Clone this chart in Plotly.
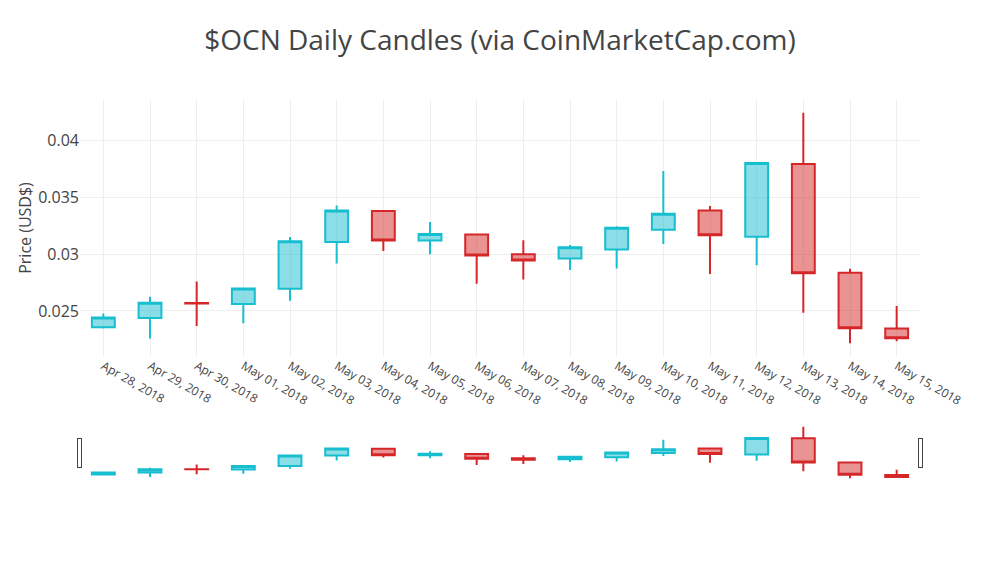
import plotly.graph_objects as go

# daily OHLC for $OCN
dates = ["Apr 28, 2018", "Apr 29, 2018", "Apr 30, 2018", "May 01, 2018", "May 02, 2018",
         "May 03, 2018", "May 04, 2018", "May 05, 2018", "May 06, 2018", "May 07, 2018",
         "May 08, 2018", "May 09, 2018", "May 10, 2018", "May 11, 2018", "May 12, 2018",
         "May 13, 2018", "May 14, 2018", "May 15, 2018"]
open_ = [0.02357, 0.02439, 0.02570, 0.02561, 0.02696, 0.03108, 0.03380, 0.03120, 0.03173,
         0.03000, 0.02962, 0.03041, 0.03216, 0.03386, 0.03155, 0.03795, 0.02836, 0.02345]
high = [0.02477, 0.02626, 0.02760, 0.02699, 0.03152, 0.03430, 0.03380, 0.03284, 0.03173,
        0.03123, 0.03082, 0.03246, 0.03734, 0.03424, 0.03804, 0.04246, 0.02871, 0.02544]
low = [0.02345, 0.02257, 0.02368, 0.02392, 0.02591, 0.02918, 0.03029, 0.03000, 0.02740,
       0.02778, 0.02860, 0.02874, 0.03091, 0.02825, 0.02903, 0.02485, 0.02216, 0.02234]
close = [0.02442, 0.02573, 0.02565, 0.02699, 0.03114, 0.03386, 0.03120, 0.03178, 0.02988,
         0.02944, 0.03061, 0.03234, 0.03357, 0.03167, 0.03804, 0.02833, 0.02348, 0.02260]

fig = go.Figure(go.Candlestick(
    x=dates, open=open_, high=high, low=low, close=close,
    increasing=dict(line=dict(color="#17BECF")),
    decreasing=dict(line=dict(color="#d62728")),
))

fig.update_layout(
    template="none",
    width=1000, height=561,
    font=dict(family="Open Sans", color="#444"),
    title=dict(text="$OCN Daily Candles (via CoinMarketCap.com)", x=0.5, xanchor="center",
               y=0.929, yanchor="middle", font=dict(size=28)),
    margin=dict(l=80, r=80, t=100, b=80),
    yaxis=dict(title=dict(text="Price (USD$)", font=dict(size=16)),
               tickfont=dict(size=16), gridcolor="#eee", zeroline=False),
    xaxis=dict(type="category", tickangle=30, gridcolor="#eee",
               rangeslider=dict(visible=True)),
    showlegend=False,
)

# the page body has an 8px default margin, drop it so the chart sits at 0,0
fig.write_html("out.html", config={"displayModeBar": False},
               post_script="document.body.style.margin='0';")
